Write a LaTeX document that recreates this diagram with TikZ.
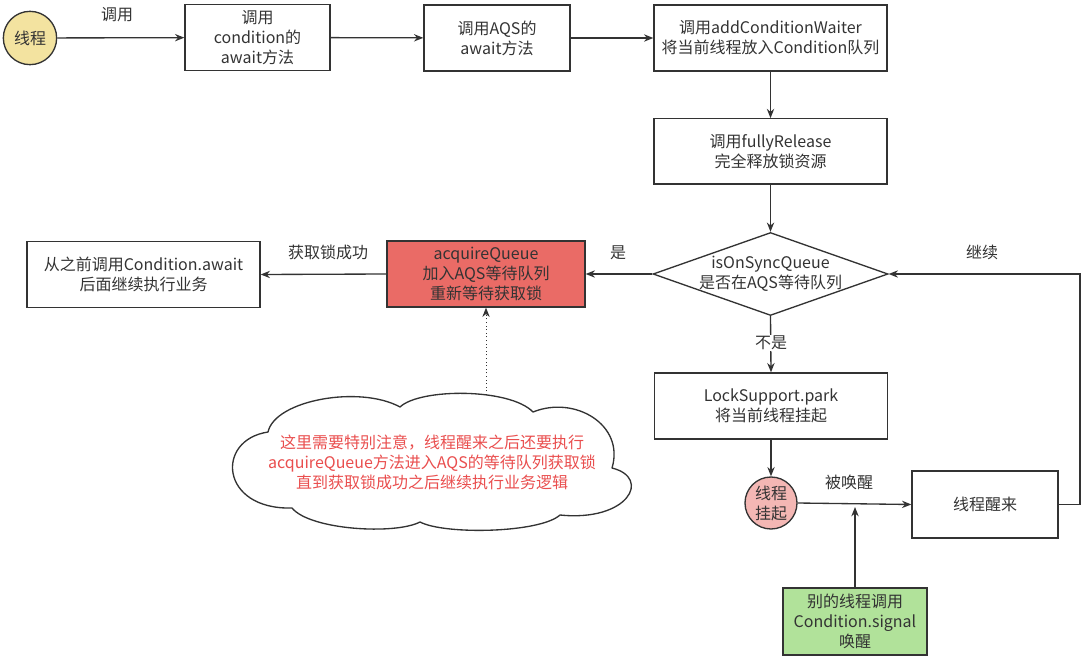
\documentclass[tikz,border=0pt]{standalone}
\usepackage{fontspec}
\setmainfont{Noto Sans CJK SC}
\usepackage{tikz}
\usetikzlibrary{shapes.geometric,arrows.meta,calc}
\definecolor{linegray}{HTML}{333333}
\definecolor{txtgray}{HTML}{333333}
\definecolor{threadyellow}{HTML}{F3E3A0}
\definecolor{acqred}{HTML}{EA6B66}
\definecolor{hangpink}{HTML}{F4B7B4}
\definecolor{signalgreen}{HTML}{B1E29A}
\definecolor{notered}{HTML}{E94E4E}

\begin{document}
\begin{tikzpicture}[x=0.75pt,y=-0.75pt,
    font=\fontsize{12}{15}\selectfont, text=txtgray,
    procbox/.style={draw=linegray,line width=1pt,align=center,inner sep=2pt},
    flow/.style={draw=linegray,line width=1pt,-{Stealth[length=7pt,width=5.5pt]}},
    lbl/.style={inner sep=1pt}]
      \useasboundingbox (0,0) rectangle (1084,659);
      % top row
      \node[procbox,circle,fill=threadyellow,minimum size=40pt,inner sep=0pt] (thread) at (30,38) {线程};
      \node[procbox,minimum width=108.75pt,minimum height=49.5pt] (cond) at (257.5,37.5) {调用\\condition的\\await方法};
      \node[procbox,minimum width=109.5pt,minimum height=49.5pt] (aqs) at (497,38) {调用AQS的\\await方法};
      \node[procbox,minimum width=174.75pt,minimum height=49.5pt] (addw) at (770.5,38) {调用addConditionWaiter\\将当前线程放入Condition队列};
      \node[procbox,minimum width=174.75pt,minimum height=49pt] (release) at (770.5,151.5) {调用fullyRelease\\完全释放锁资源};
      % middle row
      \node[procbox,diamond,aspect=2.83,minimum width=176.25pt,minimum height=62.25pt,inner sep=-3pt] (sync) at (770.5,274) {isOnSyncQueue\\是否在AQS等待队列};
      \node[procbox,fill=acqred,minimum width=148.5pt,minimum height=49.5pt] (acq) at (486,274) {acquireQueue\\加入AQS等待队列\\重新等待获取锁};
      \node[procbox,minimum width=174.75pt,minimum height=49pt] (resume) at (143.5,274.5) {从之前调用Condition.await\\后面继续执行业务};
      % bottom part
      \node[procbox,minimum width=174.75pt,minimum height=49.5pt] (park) at (771,406) {LockSupport.park\\将当前线程挂起};
      \node[procbox,circle,fill=hangpink,minimum size=39pt,inner sep=0pt] (hang) at (771,503) {线程\\挂起};
      \node[procbox,minimum width=109.5pt,minimum height=50.25pt] (wake) at (985,504.5) {线程醒来};
      \node[procbox,fill=signalgreen,minimum width=108pt,minimum height=50.25pt] (signal) at (855,621.5) {别的线程调用\\Condition.signal\\唤醒};
      % note cloud
      \draw[linegray,line width=1pt,line join=round] (292,508)
        .. controls (220,510) and (215,440) .. (268,432)
        .. controls (275,400) and (360,385) .. (400,407)
        .. controls (420,388) and (510,388) .. (533,412)
        .. controls (575,395) and (625,425) .. (612,468)
        .. controls (652,478) and (628,522) .. (560,515)
        .. controls (540,533) and (445,535) .. (420,522)
        .. controls (395,535) and (310,530) .. cycle;
      \node[text=notered,align=center] (notetext) at (432,462) {这里需要特别注意，线程醒来之后还要执行\\acquireQueue方法进入AQS的等待队列获取锁\\直到获取锁成功之后继续执行业务逻辑};
      \coordinate (cloudtop) at (487,395);
      \coordinate (loopturn) at (1080,274);
      \coordinate (wakept) at (855,507);

      \draw[flow] (thread) -- (cond);
      \draw[flow] (cond) -- (aqs);
      \draw[flow] (aqs) -- (addw);
      \draw[flow] (addw) -- (release);
      \draw[flow] (release) -- (sync);
      \draw[flow] (sync.west) -- (acq.east);
      \draw[flow] (acq.west) -- (resume.east);
      \draw[flow] (sync.south) -- (park.north);
      \draw[flow] (park) -- (hang);
      \draw[flow] (hang.east) -- (wake.west);
      \draw[flow] (wake.east) -| (loopturn) -- (sync.east);
      \draw[flow] (signal.north) -- (wakept);
      \draw[flow,line width=0.7pt,dotted] (acq.south |- cloudtop) -- (acq.south);

      % edge labels
      \node[lbl] (callLbl) at (117,15) {调用};
      \node[lbl] (okLbl) at (328,252) {获取锁成功};
      \node[lbl] (yesLbl) at (618,253) {是};
      \node[lbl,fill=white] (noLbl) at (771,343) {不是};
      \node[lbl] (goLbl) at (982,252) {继续};
      \node[lbl] (wokenLbl) at (849,482) {被唤醒};
    \end{tikzpicture}
\end{document}
